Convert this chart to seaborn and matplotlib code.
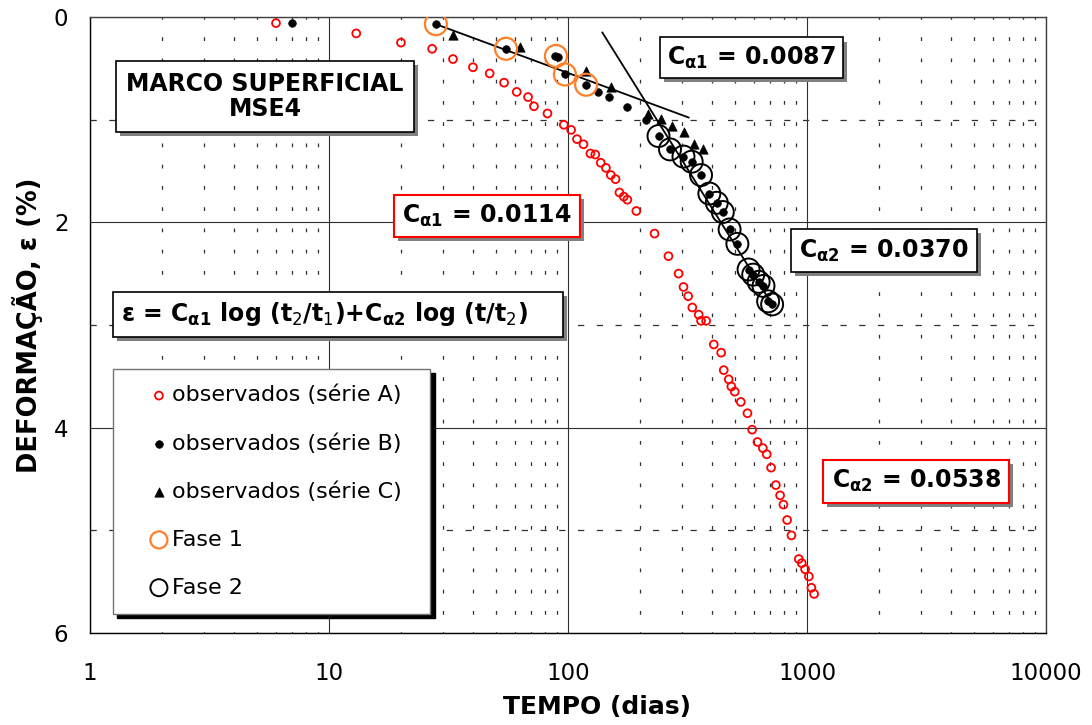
import seaborn as sns
import matplotlib.pyplot as plt
import matplotlib.ticker as mticker
import matplotlib.patheffects as pe
from matplotlib.legend_handler import HandlerPathCollection

# série A (open red circles): tempo (dias), deformação (%)
tA = [6, 13, 20, 27, 33, 40, 47, 54, 61, 68, 72, 82, 96, 103, 109, 116, 124, 130, 137, 144,
      151, 158, 164, 171, 177, 193, 230, 263, 290, 304, 318, 331, 352, 360, 378, 407, 437, 448,
      470, 482, 498, 528, 563, 589, 620, 653, 678, 707, 740, 771, 796, 825, 860, 923, 950, 981,
      1017, 1042, 1070]
eA = [0.06, 0.16, 0.25, 0.31, 0.41, 0.49, 0.55, 0.64, 0.73, 0.78, 0.87, 0.94, 1.05, 1.10, 1.19,
      1.24, 1.33, 1.34, 1.42, 1.47, 1.54, 1.58, 1.71, 1.75, 1.78, 1.89, 2.11, 2.33, 2.50, 2.63,
      2.72, 2.83, 2.90, 2.96, 2.96, 3.19, 3.27, 3.44, 3.53, 3.60, 3.65, 3.75, 3.86, 4.02, 4.14,
      4.20, 4.26, 4.39, 4.56, 4.66, 4.75, 4.90, 5.05, 5.28, 5.32, 5.38, 5.45, 5.56, 5.62]

# série B (black dots)
tB = [7, 28, 55, 88, 91, 97, 119, 133, 148, 177, 211, 239, 267, 304, 329, 360, 390, 419, 444,
      474, 511, 569, 595, 627, 657, 687, 714]
eB = [0.06, 0.07, 0.31, 0.38, 0.39, 0.56, 0.66, 0.73, 0.78, 0.88, 1.00, 1.16, 1.29, 1.36, 1.41,
      1.54, 1.72, 1.81, 1.90, 2.07, 2.21, 2.46, 2.51, 2.58, 2.62, 2.77, 2.80]

# série C (black triangles)
tC = [33, 63, 119, 151, 216, 244, 273, 306, 337, 368]
eC = [0.18, 0.29, 0.53, 0.68, 0.95, 0.99, 1.06, 1.12, 1.24, 1.29]

# points marked as phase 1 / phase 2
tF1 = [28, 55, 89, 97, 119]
eF1 = [0.07, 0.31, 0.38, 0.56, 0.66]
tF2 = [239, 267, 304, 329, 360, 390, 419, 444, 474, 511, 569, 595, 627, 657, 687, 714]
eF2 = [1.16, 1.29, 1.36, 1.41, 1.54, 1.72, 1.81, 1.90, 2.07, 2.21, 2.46, 2.51, 2.58, 2.62,
       2.77, 2.80]

# fitted straight lines (end points)
fit1_t = [28, 320]
fit1_e = [0.07, 0.98]
fit2_t = [139, 714]
fit2_e = [0.15, 2.80]

sns.set_style('white')
plt.rcParams['font.family'] = ['DejaVu Sans']
plt.rcParams['mathtext.fontset'] = 'dejavusans'
for k in ['text.color', 'axes.labelcolor', 'xtick.color', 'ytick.color']:
    plt.rcParams[k] = 'black'

fig, ax = plt.subplots(figsize=(10.92, 7.25), dpi=100)
fig.subplots_adjust(left=0.0824, right=0.958, bottom=0.127, top=0.9766)

orange = '#FF7F27'

sns.lineplot(x=fit1_t, y=fit1_e, ax=ax, color='k', lw=1.3, sort=False, zorder=3)
sns.lineplot(x=fit2_t, y=fit2_e, ax=ax, color='k', lw=1.3, sort=False, zorder=3)

sns.scatterplot(x=tA, y=eA, ax=ax, marker='o', s=32, facecolor='none', edgecolor='red',
                linewidth=1.3, label='observados (série A)', zorder=4)
sns.scatterplot(x=tB, y=eB, ax=ax, marker='o', s=30, color='k', edgecolor='k',
                linewidth=0.5, label='observados (série B)', zorder=4)
sns.scatterplot(x=tC, y=eC, ax=ax, marker='^', s=45, color='k', edgecolor='k',
                linewidth=0.5, label='observados (série C)', zorder=4)
sns.scatterplot(x=tF1, y=eF1, ax=ax, marker='o', s=250, facecolor='none', edgecolor=orange,
                linewidth=1.6, label='Fase 1', zorder=5)
sns.scatterplot(x=tF2, y=eF2, ax=ax, marker='o', s=250, facecolor='none', edgecolor='k',
                linewidth=1.4, label='Fase 2', zorder=5)

ax.set_xscale('log')
ax.set_xlim(1, 10000)
ax.set_ylim(6, 0)
ax.xaxis.set_major_locator(mticker.FixedLocator([1, 10, 100, 1000, 10000]))
ax.xaxis.set_major_formatter(mticker.FuncFormatter(lambda v, _: f'{v:g}'))
ax.xaxis.set_minor_locator(mticker.LogLocator(base=10, subs=range(2, 10), numticks=20))
ax.xaxis.set_minor_formatter(mticker.NullFormatter())
ax.yaxis.set_major_locator(mticker.FixedLocator([0, 2, 4, 6]))
ax.yaxis.set_minor_locator(mticker.FixedLocator([1, 3, 5]))

ax.grid(which='major', color='#303030', lw=0.8, ls='-')
ax.grid(which='minor', axis='x', color='#303030', lw=0.9, ls=(2, (3, 14)))
ax.grid(which='minor', axis='y', color='#303030', lw=0.9, ls=(0, (5, 10)))

ax.tick_params(axis='x', which='both', length=0, labelsize=16.5, pad=21)
ax.tick_params(axis='y', which='major', length=6, width=1, direction='out', labelsize=16.5,
               pad=9.5)
ax.tick_params(axis='y', which='minor', length=7, width=1, direction='inout')

for sp in ax.spines.values():
    sp.set_visible(True)
    sp.set_color('#404040')
    sp.set_linewidth(1)
ax.spines['left'].set_color('k')
ax.spines['bottom'].set_color('k')

ax.set_xlabel('TEMPO (dias)', fontsize=18, fontweight='bold')
ax.set_ylabel('DEFORMAÇÃO, ε (%)', fontsize=18.5, fontweight='bold')
ax.xaxis.set_label_coords(0.53, -0.101)
ax.yaxis.set_label_coords(-0.049, 0.5)

handles, labels = ax.get_legend_handles_labels()
hmap = {h: HandlerPathCollection(xpad=1.0) for h in handles[:3]}
hmap.update({h: HandlerPathCollection(xpad=1.0, sizes=[150]) for h in handles[3:]})
leg = ax.legend(handles, labels, handler_map=hmap,
                loc='upper left', bbox_to_anchor=(0.024, 0.0373, 0.332, 0.3913), mode='expand',
                fontsize=16, frameon=True, fancybox=False, edgecolor='0.45',
                labelspacing=1.25, handlelength=1.7, handletextpad=0.26, borderpad=0.72,
                borderaxespad=0, shadow={'ox': 3, 'oy': -3, 'color': 'k', 'alpha': 1})
leg.get_frame().set_linewidth(1)


def box(x, y, s, edge, ha='center', lw=1.2, pad=0.35, ls=1.2):
    t = ax.text(x, y, s, transform=ax.transAxes, ha=ha, va='center', fontsize=17,
                fontweight='bold', ma='center', linespacing=ls, zorder=6,
                bbox=dict(boxstyle=f'square,pad={pad}', fc='white', ec=edge, lw=lw))
    t.get_bbox_patch().set_path_effects([
        pe.SimplePatchShadow(offset=(3, -3), shadow_rgbFace='0.5', alpha=1), pe.Normal()])
    return t


box(0.183, 0.871, 'MARCO SUPERFICIAL\nMSE4', 'k', pad=0.45, ls=1.05)
box(0.692, 0.934, r'C$_{\mathbf{α1}}$ = 0.0087', 'k', pad=0.3)
box(0.4153, 0.677, r'C$_{\mathbf{α1}}$ = 0.0114', 'red', lw=1.5)
box(0.8305, 0.621, r'C$_{\mathbf{α2}}$ = 0.0370', 'k')
box(0.0324, 0.517,
    r'ε = C$_{\mathbf{α1}}$ log (t$_2$/t$_1$)+C$_{\mathbf{α2}}$ log (t/t$_2$)    ', 'k',
    ha='left')
box(0.864, 0.246, r'C$_{\mathbf{α2}}$ = 0.0538', 'red', lw=1.5)

fig.savefig('out.png', dpi=100)
